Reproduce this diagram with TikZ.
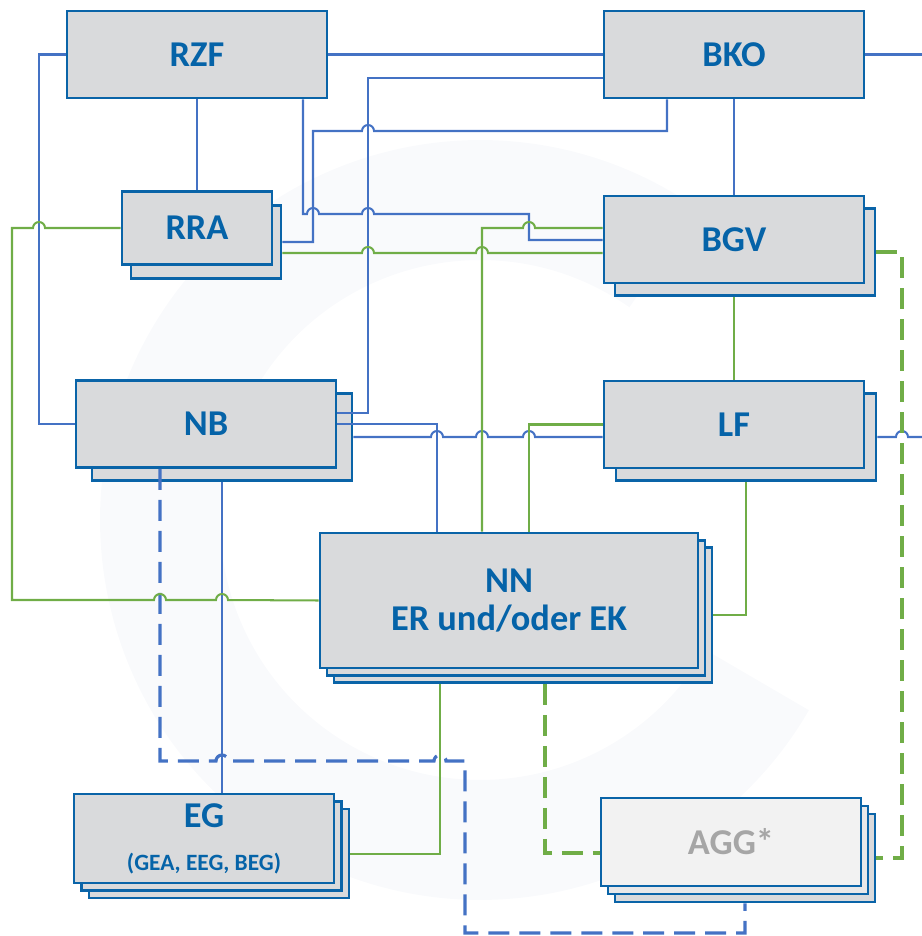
\documentclass[tikz,border=0pt]{standalone}
\usepackage{fontspec}
\setmainfont{Carlito}

\definecolor{boxblue}{HTML}{0A64A8}
\definecolor{boxgray}{HTML}{D9DADC}
\definecolor{txtblue}{HTML}{0563A8}
\definecolor{lineblue}{HTML}{4472C4}
\definecolor{linegreen}{HTML}{70AD47}
\definecolor{agglight}{HTML}{F2F2F2}
\definecolor{aggmid}{HTML}{E8E8E9}
\definecolor{agggray}{HTML}{A6A6A6}
\definecolor{wmgray}{HTML}{F9FAFC}

% line jumps over vertical lines (left to right / right to left)
\newcommand{\jumpR}[2]{-- (#1-6,#2) arc[start angle=180,end angle=0,radius=0.12cm]}
\newcommand{\jumpL}[2]{-- (#1+6,#2) arc[start angle=0,end angle=180,radius=0.12cm]}

\begin{document}
\begin{tikzpicture}[x=0.02cm,y=-0.02cm,
    box/.style={draw=boxblue,fill=boxgray,line width=1.6pt,minimum width=5.2cm,minimum height=1.74cm,inner sep=0pt,
      text=txtblue,font=\bfseries\fontsize{20.7}{21.5}\selectfont,align=center},
    bline/.style={draw=lineblue,line width=1.15pt},
    gline/.style={draw=linegreen,line width=1.15pt},
    bdash/.style={draw=lineblue,line width=1.8pt,dash pattern=on 0.42cm off 0.2cm},
    gdash/.style={draw=linegreen,line width=1.8pt,dash pattern=on 0.42cm off 0.2cm}]
    \useasboundingbox (0,0) rectangle (922,936);
    % faint watermark
    \draw[wmgray,line width=2.4cm] ([shift={(55:6.4cm)}]480,520) arc[start angle=55,end angle=330,radius=6.4cm];

    \node[box] (rzf) at (197,54.5) {RZF};
    \node[box] (bko) at (734,54.5) {BKO};
    \node[box,minimum width=3cm,minimum height=1.46cm] (rra2) at (206,242) {};
    \node[box,minimum width=3cm,minimum height=1.46cm] (rra) at (197,228) {RRA};
    \node[box] (bgv2) at (745,252) {};
    \node[box] (bgv) at (734,239.5) {BGV};
    \node[box] (nb2) at (222,437) {};
    \node[box] (nb) at (206,424) {NB};
    \node[box] (lf2) at (746,437) {};
    \node[box] (lf) at (734,424.5) {LF};
    \node[box,minimum width=7.56cm,minimum height=2.7cm] (nn3) at (523,615) {};
    \node[box,minimum width=7.56cm,minimum height=2.7cm] (nn2) at (516,608) {};
    \node[box,minimum width=7.56cm,minimum height=2.7cm] (nn) at (509,600.5) {NN\\ER und/oder EK};
    \node[box,minimum height=1.78cm] (eg3) at (219,853.5) {};
    \node[box,minimum height=1.78cm] (eg2) at (211.5,846) {};
    \node[box,minimum height=1.78cm] (eg) at (204,838.5) {EG\\[3pt]\fontsize{13.3}{15}\selectfont (GEA, EEG, BEG)};
    \node[box,minimum height=1.76cm] (agg3) at (745,858) {};
    \node[box,minimum height=1.76cm,fill=aggmid] (agg2) at (738,850) {};
    \node[box,minimum height=1.76cm,fill=agglight,text=agggray] (agg) at (731,842) {AGG*};

    \coordinate (bkoout) at (922,54.5);
    \coordinate (lfout) at (922,437);

    % blue connectors
    \draw[bline] (rzf.west) -| (39,424) -- (nb.west);
    \draw[bline] (rzf.east) -- (bko.west);
    \draw[bline] (bko.east) -- (bkoout);
    \draw[bline] (rzf.south) -- (rra.north);
    \draw[bline] (303,0 |- rzf.south) -- (303,214) \jumpR{313}{214} \jumpR{368}{214} -- (529,214) |- (bgv.west |- 0,240);
    \draw[bline] (bko.west |- 0,78) -| (368,413) -- (nb.east |- 0,413);
    \draw[bline] (667,0 |- bko.south) -- (667,131) \jumpL{368}{131} -- (313,131) |- (rra2.east);
    \draw[bline] (bko.south) -- (bgv.north);
    \draw[bline] (nb.east) -| (437,0 |- nn.north);
    \draw[bline] (nb2.east) \jumpR{437}{437} \jumpR{482}{437} \jumpR{529}{437} -- (lf.west |- nb2.east);
    \draw[bline] (lf2.east) \jumpR{902}{437} -- (lfout);
    \draw[bline] (nb2.south) -- (nb2.south |- eg.north);
    \draw[bdash] (160,0 |- nb.south) -- (160,761) \jumpR{222}{761} \jumpR{440}{761} -- (465,761) -- (465,933) -| (agg3.south);

    % green connectors
    \draw[gline] (rra.west) \jumpL{39}{228} -- (12,228) -- (12,600) \jumpR{160}{600} \jumpR{222}{600} -- (nn.west);
    \draw[gline] (rra2.east |- 0,253) \jumpR{368}{253} \jumpR{482}{253} -- (bgv.west |- 0,253);
    \draw[gline] (bgv.west |- 0,228) \jumpL{529}{228} -- (482,228) -- (482,0 |- nn.north);
    \draw[gline] (734,0 |- bgv2.south) -- (lf.north);
    \draw[gline] (lf.west) -| (529,0 |- nn.north);
    \draw[gline] (lf2.south) |- (nn3.east);
    \draw[gline] (440,0 |- nn3.south) |- (eg3.east);
    \draw[gdash] (545,0 |- nn3.south) |- (agg.west |- 0,853);
    \draw[gdash] (bgv2.east) -| (902,0 |- agg3.east) -- (agg3.east);
\end{tikzpicture}
\end{document}
